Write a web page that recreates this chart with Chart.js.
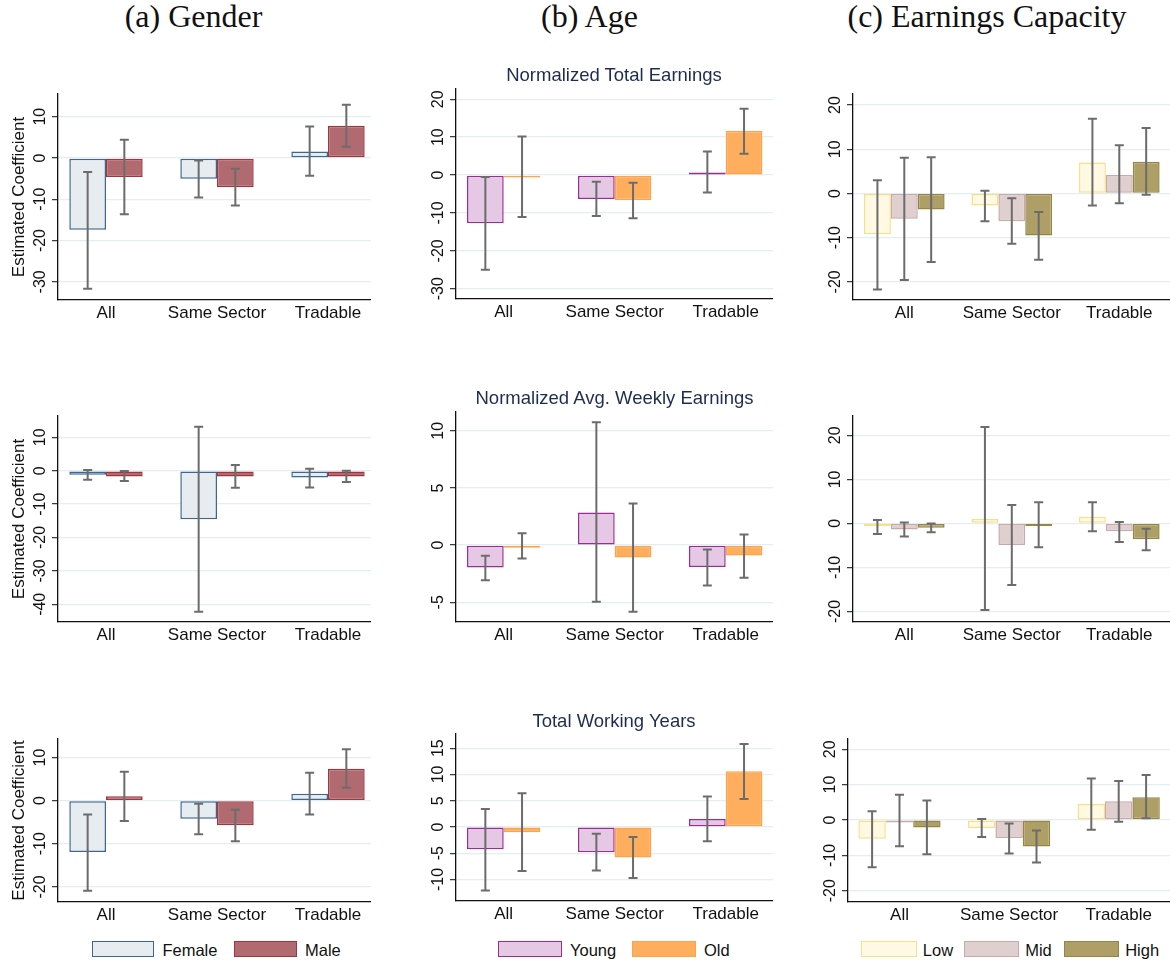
<!doctype html>
<html lang="en">
<head>
<meta charset="UTF-8" />
<title>Estimated coefficients by group</title>
<script src="https://cdn.jsdelivr.net/npm/chart.js"></script>
<style>
  body {
    margin: 0;
    width: 1170px;
    height: 963px;
    position: relative;
    overflow: hidden;
    background: #fff;
    font-family: "Liberation Sans", Arial, sans-serif;
    color: #111;
  }
  canvas { position: absolute; }
  .head {
    position: absolute;
    top: 0px;
    font-family: "Liberation Serif", serif;
    font-size: 32px;
    line-height: 32px;
    transform: translateX(-50%);
    white-space: nowrap;
  }
  .ptitle {
    position: absolute;
    font-size: 18.5px;
    line-height: 22px;
    color: #1d2c4f;
    transform: translate(-50%, -50%);
    white-space: nowrap;
  }
  .lbox { position: absolute; top: 940.5px; height: 16.7px; box-sizing: border-box; border: 1.5px solid; }
  .ltxt { position: absolute; top: 942px; font-size: 16.5px; line-height: 17px; white-space: nowrap; }
</style>
</head>
<body>
<script>
// ---- data ----
const categories = ["All", "Same Sector", "Tradable"];
const columnHeads = ["(a) Gender", "(b) Age", "(c) Earnings Capacity"];
const rowTitles = ["Normalized Total Earnings", "Normalized Avg. Weekly Earnings", "Total Working Years"];
const genderGroups = ["Female", "Male"];
const ageGroups = ["Young", "Old"];
const capacityGroups = ["Low", "Mid", "High"];

// gender
const genderEarnFemale = [-17.4, -5.0, 1.6];
const genderEarnFemaleCI = [[-31.7, -3.4], [-9.6, -0.6], [-4.3, 7.6]];
const genderEarnMale = [-4.6, -7.1, 7.8];
const genderEarnMaleCI = [[-13.6, 4.4], [-11.5, -2.6], [2.7, 12.9]];
const genderWeeklyFemale = [-1.2, -14.5, -2.0];
const genderWeeklyFemaleCI = [[-2.7, 0.2], [-42.2, 13.2], [-5.0, 0.6]];
const genderWeeklyMale = [-1.7, -1.7, -1.7];
const genderWeeklyMaleCI = [[-3.1, -0.1], [-5.1, 1.7], [-3.4, 0.0]];
const genderYearsFemale = [-11.9, -4.2, 1.6];
const genderYearsFemaleCI = [[-20.9, -3.2], [-7.8, -0.7], [-3.2, 6.5]];
const genderYearsMale = [1.0, -5.7, 7.4];
const genderYearsMaleCI = [[-4.7, 6.7], [-9.4, -2.1], [3.0, 11.9]];

// age
const ageEarnYoung = [-12.7, -6.3, 0.7];
const ageEarnYoungCI = [[-25.0, -0.5], [-10.8, -1.8], [-4.6, 6.2]];
const ageEarnOld = [-0.3, -6.6, 11.6];
const ageEarnOldCI = [[-11.1, 10.2], [-11.4, -2.0], [5.6, 17.5]];
const ageWeeklyYoung = [-1.95, 2.86, -1.92];
const ageWeeklyYoungCI = [[-3.06, -0.93], [-4.95, 10.74], [-3.52, -0.38]];
const ageWeeklyOld = [-0.05, -1.08, -0.9];
const ageWeeklyOldCI = [[-1.16, 1.05], [-5.82, 3.64], [-2.86, 0.93]];
const ageYearsYoung = [-4.26, -4.8, 1.5];
const ageYearsYoungCI = [[-12.1, 3.4], [-8.3, -1.3], [-2.7, 5.8]];
const ageYearsOld = [-1.0, -5.8, 10.6];
const ageYearsOldCI = [[-8.4, 6.4], [-9.7, -1.9], [5.3, 15.8]];

// earnings capacity
const capEarnLow = [-9.2, -2.7, 7.0];
const capEarnLowCI = [[-21.7, 3.0], [-6.3, 0.6], [-2.7, 16.9]];
const capEarnMid = [-5.7, -6.3, 4.2];
const capEarnMidCI = [[-19.6, 8.1], [-11.4, -1.1], [-2.2, 10.9]];
const capEarnHigh = [-3.6, -9.5, 7.2];
const capEarnHighCI = [[-15.5, 8.2], [-15.0, -4.2], [-0.3, 14.8]];
const capWeeklyLow = [-0.6, 1.0, 1.5];
const capWeeklyLowCI = [[-2.4, 0.8], [-19.7, 21.9], [-1.8, 4.8]];
const capWeeklyMid = [-1.4, -4.9, -1.8];
const capWeeklyMidCI = [[-3.0, 0.2], [-14.0, 4.2], [-4.2, 0.3]];
const capWeeklyHigh = [-1.0, -0.3, -3.6];
const capWeeklyHighCI = [[-2.0, 0.0], [-5.4, 4.8], [-6.1, -1.2]];
const capYearsLow = [-5.3, -2.3, 4.5];
const capYearsLowCI = [[-13.4, 2.5], [-4.8, 0.3], [-2.8, 11.7]];
const capYearsMid = [-0.2, -5.1, 5.3];
const capYearsMidCI = [[-7.4, 7.1], [-9.5, -1.0], [-0.5, 11.0]];
const capYearsHigh = [-2.1, -7.5, 6.4];
const capYearsHighCI = [[-9.7, 5.5], [-12.0, -3.0], [0.5, 12.7]];

// y tick labels
const ticksGenderEarn = [-30, -20, -10, 0, 10];
const ticksGenderWeekly = [-40, -30, -20, -10, 0, 10];
const ticksGenderYears = [-20, -10, 0, 10];
const ticksAgeEarn = [-30, -20, -10, 0, 10, 20];
const ticksAgeWeekly = [-5, 0, 5, 10];
const ticksAgeYears = [-10, -5, 0, 5, 10, 15];
const ticksCapEarn = [-20, -10, 0, 10, 20];
const ticksCapWeekly = [-20, -10, 0, 10, 20];
const ticksCapYears = [-20, -10, 0, 10, 20];

// ---- looks ----
const FONT = '"Liberation Sans", Arial, sans-serif';
const looks = {
  gender: { names: genderGroups, fill: ["#e7ecf0", "#b06a70"], line: ["#3d6690", "#9e3640"], cat: 0.661,
            legendX: [91.7, 234.3], boxW: 62.7, gap: 8 },
  age: { names: ageGroups, fill: ["#e4c8e4", "#ffae5e"], line: ["#9a2c96", "#ffa24a"], cat: 0.661,
         legendX: [498.3, 632.3], boxW: 64, gap: 7.7 },
  capacity: { names: capacityGroups, fill: ["#fff9e4", "#dfcfcf", "#ae9f67"], line: ["#f7e08a", "#c9a9a9", "#958648"], cat: 0.75,
              legendX: [861.3, 963.7, 1063.7], boxW: 55.5, gap: 6 }
};

// box: [y-axis x, plot top, plot bottom, plot right], centers: pixel x of first and last category
const panels = [
  { group: "gender", series: [[genderEarnFemale, genderEarnFemaleCI], [genderEarnMale, genderEarnMaleCI]],
    ticks: ticksGenderEarn, range: [-34.4, 15.5], box: [58, 94, 300, 371], centers: [106, 328], ytitle: true },
  { group: "age", series: [[ageEarnYoung, ageEarnYoungCI], [ageEarnOld, ageEarnOldCI]],
    ticks: ticksAgeEarn, range: [-32.7, 22.7], box: [456, 89, 299, 773], centers: [503.7, 725.7] },
  { group: "capacity", series: [[capEarnLow, capEarnLowCI], [capEarnMid, capEarnMidCI], [capEarnHigh, capEarnHighCI]],
    ticks: ticksCapEarn, range: [-24.1, 22.5], box: [853, 94, 300, 1170], centers: [904.3, 1119.3] },
  { group: "gender", series: [[genderWeeklyFemale, genderWeeklyFemaleCI], [genderWeeklyMale, genderWeeklyMaleCI]],
    ticks: ticksGenderWeekly, range: [-45.3, 16.4], box: [58, 416, 622, 371], centers: [106, 328], ytitle: true },
  { group: "age", series: [[ageWeeklyYoung, ageWeeklyYoungCI], [ageWeeklyOld, ageWeeklyOldCI]],
    ticks: ticksAgeWeekly, range: [-6.72, 11.64], box: [456, 412, 622, 773], centers: [503.7, 725.7] },
  { group: "capacity", series: [[capWeeklyLow, capWeeklyLowCI], [capWeeklyMid, capWeeklyMidCI], [capWeeklyHigh, capWeeklyHighCI]],
    ticks: ticksCapWeekly, range: [-22.4, 24.4], box: [853, 416, 622, 1170], centers: [904.3, 1119.3] },
  { group: "gender", series: [[genderYearsFemale, genderYearsFemaleCI], [genderYearsMale, genderYearsMaleCI]],
    ticks: ticksGenderYears, range: [-23.5, 14.3], box: [58, 739, 902, 371], centers: [106, 328], ytitle: true, legend: true },
  { group: "age", series: [[ageYearsYoung, ageYearsYoungCI], [ageYearsOld, ageYearsOldCI]],
    ticks: ticksAgeYears, range: [-14.1, 17.7], box: [456, 734, 901, 773], centers: [503.7, 725.7], legend: true },
  { group: "capacity", series: [[capYearsLow, capYearsLowCI], [capYearsMid, capYearsMidCI], [capYearsHigh, capYearsHighCI]],
    ticks: ticksCapYears, range: [-23.2, 22.9], box: [848, 739, 902, 1170], centers: [899.5, 1118.7], legend: true }
];

// confidence intervals on top of the bars
const errorBars = {
  id: "errorBars",
  afterDatasetsDraw(chart) {
    const ctx = chart.ctx, ys = chart.scales.y;
    ctx.save();
    ctx.strokeStyle = "#6c6c6c";
    ctx.lineWidth = 2;
    chart.data.datasets.forEach((ds, d) => {
      chart.getDatasetMeta(d).data.forEach((bar, i) => {
        const y1 = ys.getPixelForValue(ds.ci[i][0]);
        const y2 = ys.getPixelForValue(ds.ci[i][1]);
        ctx.beginPath();
        ctx.moveTo(bar.x, y1); ctx.lineTo(bar.x, y2);
        ctx.moveTo(bar.x - 4.5, y1); ctx.lineTo(bar.x + 4.5, y1);
        ctx.moveTo(bar.x - 4.5, y2); ctx.lineTo(bar.x + 4.5, y2);
        ctx.stroke();
      });
    });
    ctx.restore();
  }
};

// stata style vertical tick labels
const sideTicks = {
  id: "sideTicks",
  afterDraw(chart) {
    const ctx = chart.ctx, ys = chart.scales.y;
    ctx.save();
    ctx.font = "16px " + FONT;
    ctx.fillStyle = "#111";
    ctx.textAlign = "center";
    ctx.textBaseline = "alphabetic";
    ys.ticks.forEach(t => {
      ctx.save();
      ctx.translate(chart.chartArea.left - 13, ys.getPixelForValue(t.value));
      ctx.rotate(-Math.PI / 2);
      ctx.fillText(String(t.value), 0, 0);
      ctx.restore();
    });
    ctx.restore();
  }
};

Chart.defaults.font.family = FONT;
Chart.defaults.color = "#111";

panels.forEach(p => {
  const [L, T, B, R] = p.box;
  const look = looks[p.group];
  const left = L - 58, top = T - 8;
  const cv = document.createElement("canvas");
  cv.width = R - left;
  cv.height = B - T + 8 + 34;
  cv.style.left = left + "px";
  cv.style.top = top + "px";
  document.body.appendChild(cv);

  const step = (p.centers[1] - p.centers[0]) / 2;
  const xmin = 1 - (p.centers[0] - L) / step;
  const xmax = 3 + (R - p.centers[1]) / step;

  new Chart(cv, {
    type: "bar",
    data: {
      datasets: p.series.map((s, k) => ({
        label: look.names[k],
        data: s[0].map((v, i) => ({ x: i + 1, y: v })),
        ci: s[1],
        backgroundColor: look.fill[k],
        borderColor: look.line[k],
        borderWidth: 1.5,
        borderSkipped: false,
        minBarLength: 2.5,
        categoryPercentage: look.cat,
        barPercentage: 1
      }))
    },
    options: {
      responsive: false,
      animation: false,
      layout: { padding: { top: 8, right: 0, bottom: 0, left: 0 } },
      plugins: { legend: { display: false }, tooltip: { enabled: false } },
      scales: {
        x: {
          type: "linear",
          min: xmin,
          max: xmax,
          offset: false,
          grid: { display: false, drawTicks: false, offset: false },
          border: { display: true, color: "#111", width: 1.3 },
          afterBuildTicks: s => { s.ticks = categories.map((c, i) => ({ value: i + 1 })); },
          afterFit: s => { s.height = 34; },
          ticks: {
            callback: v => categories[v - 1],
            font: { size: 17 },
            color: "#111",
            padding: 3,
            maxRotation: 0,
            autoSkip: false
          }
        },
        y: {
          min: p.range[0],
          max: p.range[1],
          afterBuildTicks: s => { s.ticks = p.ticks.map(v => ({ value: v })); },
          afterFit: s => { s.width = 58; },
          ticks: { display: false },
          grid: { color: "#e4edf0", lineWidth: 1.3, tickLength: 6, tickColor: "#333", tickWidth: 1.2 },
          border: { display: true, color: "#111", width: 1.3 },
          title: {
            display: !!p.ytitle,
            text: "Estimated Coefficient",
            font: { size: 17 },
            color: "#111",
            padding: { top: 9, bottom: 0 }
          }
        }
      }
    },
    plugins: [errorBars, sideTicks]
  });

  if (p.legend) {
    look.names.forEach((name, k) => {
      const box = document.createElement("div");
      box.className = "lbox";
      box.style.left = look.legendX[k] + "px";
      box.style.width = look.boxW + "px";
      box.style.background = look.fill[k];
      box.style.borderColor = look.line[k];
      document.body.appendChild(box);
      const txt = document.createElement("div");
      txt.className = "ltxt";
      txt.style.left = (look.legendX[k] + look.boxW + look.gap) + "px";
      txt.textContent = name;
      document.body.appendChild(txt);
    });
  }
});

// column headers and row titles
[193.5, 589.5, 987].forEach((x, i) => {
  const d = document.createElement("div");
  d.className = "head";
  d.style.left = x + "px";
  d.textContent = columnHeads[i];
  document.body.appendChild(d);
});
[[614, 75], [614.5, 398], [614, 720.7]].forEach((pos, i) => {
  const d = document.createElement("div");
  d.className = "ptitle";
  d.style.left = pos[0] + "px";
  d.style.top = pos[1] + "px";
  d.textContent = rowTitles[i];
  document.body.appendChild(d);
});
</script>
</body>
</html>
